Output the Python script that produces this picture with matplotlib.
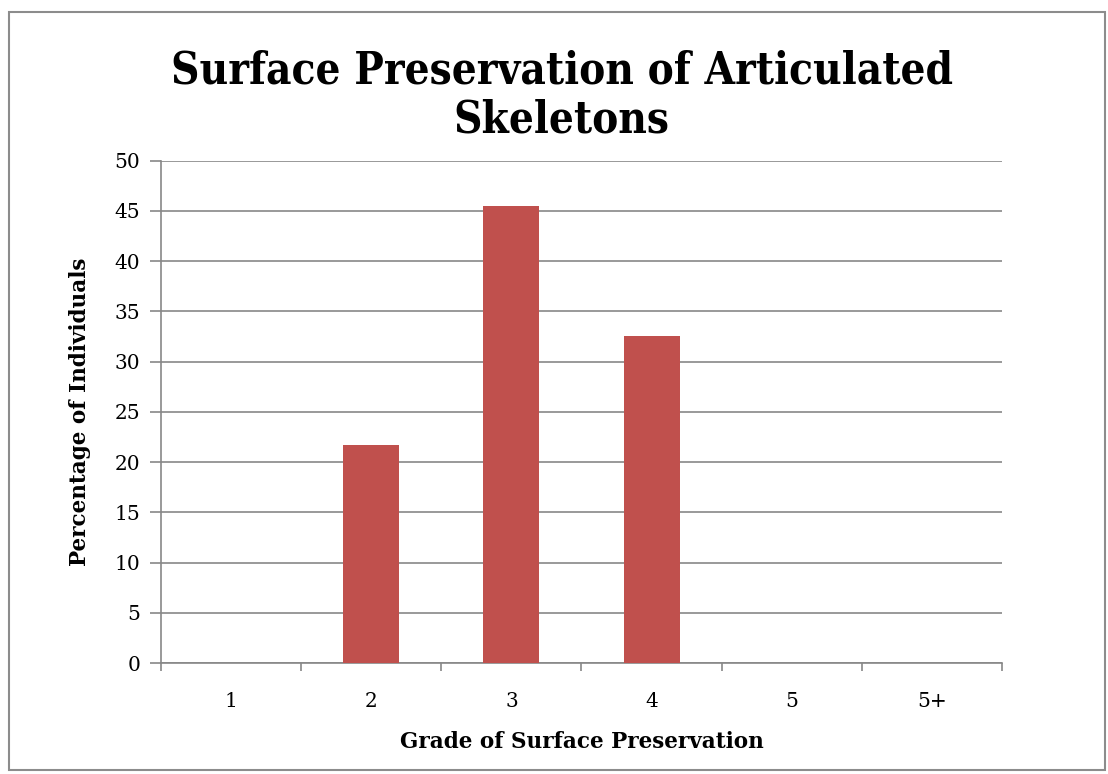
import matplotlib.pyplot as plt
from matplotlib.patches import Rectangle

# grade categories and share of individuals (%)
grades = ["1", "2", "3", "4", "5", "5+"]
percent = [0, 21.7, 45.5, 32.5, 0, 0]

BAR_COLOR = "#C0504D"
GRID_COLOR = "#878787"
SERIF = ["DejaVu Serif"]

fig = plt.figure(figsize=(11.08, 7.74), dpi=100)
ax = fig.add_axes([0.1453, 0.1434, 0.9043 - 0.1453, 0.7924 - 0.1434])

x = list(range(len(grades)))
ax.bar(x, percent, width=0.4, color=BAR_COLOR, zorder=3)

ax.set_xlim(-0.5, len(grades) - 0.5)
ax.set_ylim(0, 50)
ax.set_yticks(range(0, 51, 5))
ax.yaxis.grid(True, color=GRID_COLOR, linewidth=1.2, zorder=0)

# category labels centred, tick marks on the boundaries
ax.set_xticks(x)
ax.set_xticklabels(grades, family=SERIF, fontsize=14.5)
ax.tick_params(axis="x", which="major", length=0, pad=21)
ax.set_xticks([i - 0.5 for i in range(len(grades) + 1)], minor=True)
ax.tick_params(axis="x", which="minor", length=6, color=GRID_COLOR, width=1.2)
ax.tick_params(axis="y", length=8, color=GRID_COLOR, width=1.2, pad=7)
for lab in ax.get_yticklabels():
    lab.set_family(SERIF)
    lab.set_fontsize(14.5)

for s in ["top", "right"]:
    ax.spines[s].set_visible(False)
for s in ["left", "bottom"]:
    ax.spines[s].set_color(GRID_COLOR)
    ax.spines[s].set_linewidth(1.2)

ax.set_xlabel("Grade of Surface Preservation", family=SERIF, fontweight="bold",
              fontsize=15.5, labelpad=14)
ax.set_ylabel("Percentage of Individuals", family=SERIF, fontweight="bold",
              fontsize=15.5, labelpad=17)

fig.text(0.507, 0.877, "Surface Preservation of Articulated\nSkeletons",
         family=SERIF, fontweight="bold", fontsize=31.5, stretch="condensed",
         ha="center", va="center", linespacing=1.18)

# outer chart border
fig.patches.append(Rectangle((9 / 1108, 4 / 774), 1096 / 1108, 758 / 774,
                             transform=fig.transFigure, fill=False,
                             edgecolor="#8c8c8c", linewidth=1.5))

fig.savefig("out.png", dpi=100)
